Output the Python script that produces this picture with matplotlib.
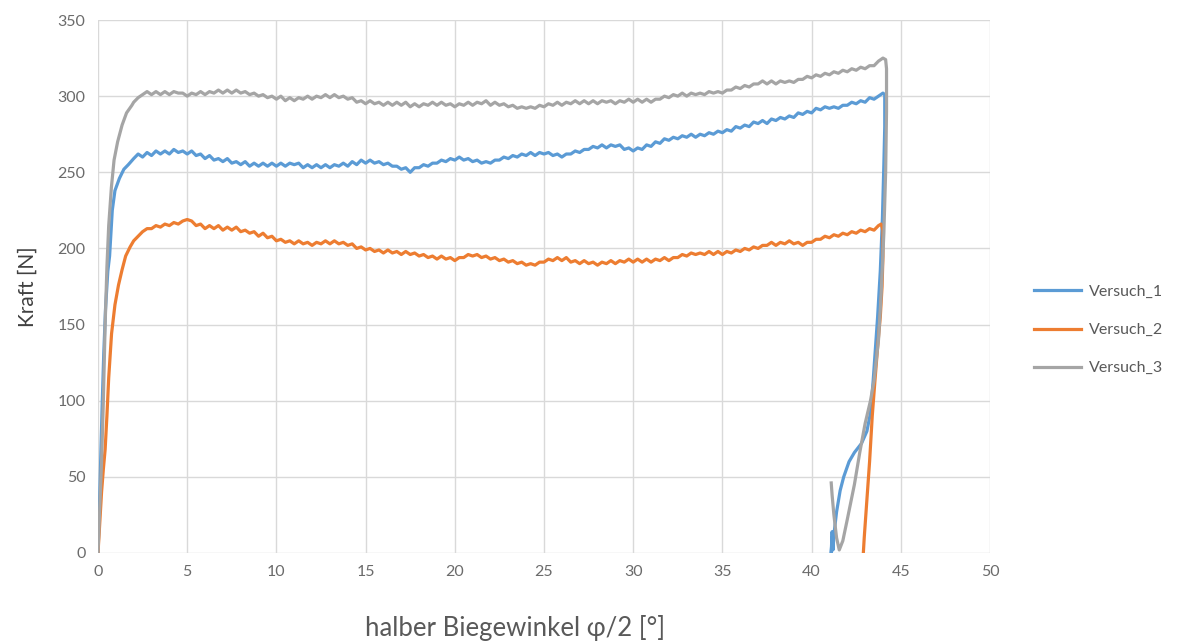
import numpy as np
import matplotlib
matplotlib.use("Agg")
import matplotlib.pyplot as plt

# ---------------- data ----------------
labels = ["Versuch_1", "Versuch_2", "Versuch_3"]
x_ticks = [0, 5, 10, 15, 20, 25, 30, 35, 40, 45, 50]
y_ticks = [0, 50, 100, 150, 200, 250, 300, 350]

plateau_start = 2.0   # plateau samples every 0.25 degree from 2.0 to 43.75
plateau_step = 0.25

# Versuch_1 (blue)
v1_rise_x = [0.0, 0.08, 0.15, 0.23, 0.32, 0.42, 0.55, 0.65, 0.8, 0.95, 1.2, 1.45, 1.7, 1.85]
v1_rise_y = [0, 30, 60, 96, 130, 160, 185, 195, 225, 238, 246, 252, 255, 257]
v1_plateau = [
    259, 262, 260, 263, 261, 264, 262, 264, 262, 265, 263, 264, 262, 264, 261, 262,
    259, 261, 258, 259, 257, 259, 256, 257, 255, 257, 254, 256, 254, 256, 254, 256,
    254, 256, 254, 256, 255, 256, 253, 255, 253, 255, 253, 255, 253, 255, 254, 256,
    254, 257, 255, 258, 256, 258, 256, 257, 255, 256, 254, 254, 252, 253, 250, 253,
    253, 255, 254, 256, 256, 258, 257, 259, 258, 260, 258, 259, 257, 258, 256, 257,
    256, 258, 258, 260, 259, 261, 260, 262, 261, 263, 261, 263, 262, 263, 261, 262,
    260, 262, 262, 264, 263, 265, 265, 267, 266, 268, 266, 268, 267, 268, 265, 266,
    264, 266, 265, 268, 267, 270, 269, 272, 271, 273, 272, 274, 273, 275, 273, 275,
    274, 276, 275, 277, 276, 278, 277, 280, 279, 281, 280, 283, 282, 284, 282, 285,
    284, 286, 285, 287, 286, 289, 288, 290, 289, 292, 291, 293, 292, 293, 292, 294,
    294, 296, 295, 297, 296, 299, 298, 300,
]
v1_end_x = [44.0, 44.1, 44.1, 44.05, 43.97, 43.85, 43.7, 43.55, 43.45, 43.3, 43.1, 42.8,
            42.4, 42.1, 41.8, 41.6, 41.4, 41.25, 41.2, 41.15, 41.1, 41.15]
v1_end_y = [302, 301, 280, 255, 220, 185, 155, 130, 113, 92, 80, 72,
            66, 60, 50, 41, 27, 12, 2, 14, 0, 10]

# Versuch_2 (orange)
v2_rise_x = [0.0, 0.1, 0.2, 0.3, 0.4, 0.5, 0.6, 0.76, 0.95, 1.15, 1.35, 1.55, 1.8]
v2_rise_y = [0, 20, 40, 55, 68, 90, 115, 144, 163, 176, 186, 195, 201]
v2_plateau = [
    205, 208, 211, 213, 213, 215, 214, 216, 215, 217, 216, 218, 219, 218, 215, 216,
    213, 215, 213, 215, 212, 214, 212, 214, 211, 212, 210, 211, 208, 210, 207, 208,
    205, 206, 204, 205, 203, 205, 203, 204, 202, 204, 203, 205, 203, 205, 203, 204,
    202, 203, 200, 201, 199, 200, 198, 199, 197, 199, 197, 198, 196, 198, 196, 197,
    195, 196, 194, 195, 193, 195, 193, 194, 192, 194, 194, 196, 195, 196, 194, 195,
    193, 194, 192, 193, 191, 192, 190, 191, 189, 190, 189, 191, 191, 193, 192, 194,
    192, 194, 191, 192, 190, 192, 190, 191, 189, 191, 190, 192, 190, 192, 191, 193,
    191, 193, 191, 193, 191, 193, 192, 194, 192, 194, 194, 196, 195, 197, 196, 197,
    196, 198, 196, 198, 196, 198, 197, 199, 198, 200, 199, 201, 200, 202, 202, 204,
    202, 204, 203, 205, 203, 204, 202, 204, 204, 206, 206, 208, 207, 209, 208, 210,
    209, 211, 210, 212, 211, 213, 212, 215,
]
v2_end_x = [43.9, 44.0, 44.0, 43.95, 43.85, 43.7, 43.55, 43.4, 43.25, 43.1, 42.95, 42.9]
v2_end_y = [216, 212, 195, 175, 155, 135, 113, 90, 60, 35, 10, 0]

# Versuch_3 (grey)
v3_rise_x = [0.0, 0.1, 0.2, 0.3, 0.4, 0.5, 0.6, 0.75, 0.9, 1.1, 1.35, 1.6, 1.9]
v3_rise_y = [0, 30, 60, 100, 150, 188, 215, 240, 258, 270, 281, 289, 294]
v3_plateau = [
    296, 299, 301, 303, 301, 303, 301, 303, 301, 303, 302, 302, 300, 302, 301, 303,
    301, 303, 302, 304, 302, 304, 302, 304, 302, 303, 301, 302, 300, 301, 299, 300,
    298, 300, 297, 299, 297, 299, 298, 300, 298, 300, 299, 301, 299, 301, 299, 300,
    298, 299, 296, 297, 295, 297, 295, 296, 294, 296, 294, 296, 294, 296, 293, 295,
    293, 295, 294, 296, 294, 296, 294, 295, 293, 295, 294, 296, 294, 296, 295, 297,
    294, 296, 294, 295, 293, 294, 292, 293, 292, 293, 292, 294, 293, 295, 294, 296,
    294, 296, 295, 297, 295, 297, 295, 297, 295, 297, 296, 297, 295, 297, 296, 298,
    296, 298, 296, 298, 296, 298, 298, 300, 299, 301, 300, 302, 300, 302, 301, 302,
    301, 303, 302, 303, 302, 304, 304, 306, 305, 307, 306, 308, 308, 310, 308, 310,
    308, 310, 309, 310, 309, 311, 311, 313, 312, 314, 313, 315, 314, 316, 315, 317,
    316, 318, 317, 319, 318, 320, 320, 323,
]
v3_end_x = [44.0, 44.15, 44.2, 44.2, 44.15, 44.05, 43.9, 43.75, 43.5, 43.3, 43.0, 42.7,
            42.4, 42.0, 41.75, 41.55, 41.4, 41.25, 41.15, 41.1]
v3_end_y = [325, 324, 318, 290, 250, 210, 170, 140, 113, 100, 85, 66,
            45, 22, 8, 2, 10, 25, 38, 46]

colors = ["#5B9BD5", "#ED7D31", "#A5A5A5"]


def build(rise_x, rise_y, plateau, end_x, end_y):
    px = plateau_start + plateau_step * np.arange(len(plateau))
    x = np.concatenate([rise_x, px, end_x])
    y = np.concatenate([rise_y, plateau, end_y])
    return x, y


series = [
    build(v1_rise_x, v1_rise_y, v1_plateau, v1_end_x, v1_end_y),
    build(v2_rise_x, v2_rise_y, v2_plateau, v2_end_x, v2_end_y),
    build(v3_rise_x, v3_rise_y, v3_plateau, v3_end_x, v3_end_y),
]

# ---------------- figure ----------------
plt.rcParams['font.family'] = ['Lato', 'DejaVu Sans']
fig = plt.figure(figsize=(11.91, 6.44), dpi=100)
ax = fig.add_axes([98 / 1191, 1 - 553 / 644, (990 - 98) / 1191, (553 - 20) / 644])

for (x, y), c, lab in zip(series, colors, labels):
    ax.plot(x, y, color=c, lw=2.3, label=lab, solid_joinstyle='round')

ax.set_xlim(0, 50)
ax.set_ylim(0, 350)
ax.set_xticks(x_ticks)
ax.set_yticks(y_ticks)
ax.grid(True, color="#D9D9D9", lw=1.0)
ax.set_axisbelow(True)
for s in ax.spines.values():
    s.set_visible(False)
ax.tick_params(length=0, labelsize=11.5, labelcolor="#6b6b6b", pad=9)

fig.text(515 / 1191, 1 - 628 / 644, "halber Biegewinkel φ/2 [°]", fontsize=18.5,
         color="#595959", ha="center", va="center")
ax.set_ylabel("Kraft [N]", fontsize=15, color="#404040", labelpad=14)

fig.legend(loc="center left", bbox_to_anchor=(1020 / 1191, 1 - 330 / 644),
           frameon=False, fontsize=11.5, labelspacing=1.5, handlelength=2.9,
           handletextpad=0.5, labelcolor="#595959")

fig.savefig("out.png", dpi=100)
